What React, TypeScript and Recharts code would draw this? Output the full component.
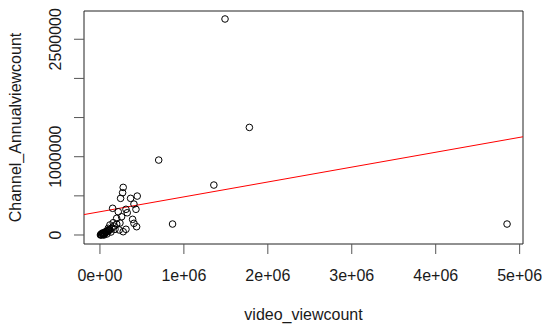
import React from "react";
import {
  ComposedChart,
  Scatter,
  XAxis,
  YAxis,
  ReferenceLine,
  ReferenceArea,
} from "recharts";

// video_viewcount values
const videoViewcount: number[] = [
  277000, 270000, 246000, 365000, 444000, 405000, 151000, 218000, 310000, 325000,
  429000, 389000, 258000, 199000, 405000, 437000, 310000, 277000, 119000, 158000,
  99000, 179000, 230000, 20000, 36000, 48000, 60000, 77000, 95000, 119000,
  143000, 30000, 83000, 6000, 131000, 167000, 200000, 238000,
  10000, 15000, 25000, 40000, 50000, 65000, 70000, 85000, 100000, 110000, 45000, 55000,
  700000, 1780000, 1357000, 865000, 1490000, 4850000,
];

// Channel_Annualviewcount values
const channelAnnualViewcount: number[] = [
  608000, 540000, 468000, 468000, 497000, 395000, 341000, 297000, 328000, 284000,
  328000, 200000, 233000, 213000, 149000, 106000, 73000, 42000, 128000, 157000,
  85000, 73000, 64000, 0, 13000, 0, 26000, 38000, 51000, 64000,
  89000, 25000, 13000, 0, 38000, 115000, 140000, 153000,
  5000, 10000, 20000, 20000, 30000, 35000, 45000, 40000, 60000, 70000, 8000, 15000,
  957000, 1374000, 638000, 140000, 2759000, 140000,
];

const xTicks: number[] = [0, 1000000, 2000000, 3000000, 4000000, 5000000];
const xTickLabels: string[] = ["0e+00", "1e+06", "2e+06", "3e+06", "4e+06", "5e+06"];
const yTicks: number[] = [0, 500000, 1000000, 1500000, 2000000, 2500000];
const yTickLabels: string[] = ["0", "", "1000000", "", "", "2500000"];

const xDomain: [number, number] = [-190000, 5040000];
const yDomain: [number, number] = [-115000, 2861000];

// fitted line (abline)
const fitIntercept = 297000;
const fitSlope = 0.19;

const data = videoViewcount.map((x, i) => ({ x, y: channelAnnualViewcount[i] }));

const FONT = "'Liberation Sans', Arial, sans-serif";
const TEXT = "#1a1a1a";

const XTick = (props: any) => {
  const { x, payload } = props;
  const idx = xTicks.indexOf(payload.value);
  return (
    <text x={x} y={281} textAnchor="middle" fontSize={16} fontFamily={FONT} fill={TEXT}>
      {xTickLabels[idx]}
    </text>
  );
};

const YTick = (props: any) => {
  const { y, payload } = props;
  const idx = yTicks.indexOf(payload.value);
  const label = yTickLabels[idx];
  if (!label) return <g />;
  const bx = 61;
  return (
    <text
      x={bx}
      y={y}
      transform={`rotate(-90, ${bx}, ${y})`}
      textAnchor="middle"
      fontSize={16}
      fontFamily={FONT}
      fill={TEXT}
    >
      {label}
    </text>
  );
};

const Circle = (props: any) => {
  const { cx, cy } = props;
  return <circle cx={cx} cy={cy} r={3.3} fill="none" stroke="#000" strokeWidth={1} />;
};

export default function App() {
  return (
    <div style={{ position: "absolute", left: 0, top: 0, background: "#fff" }}>
      <ComposedChart
        width={542}
        height={326}
        data={data}
        margin={{ top: 11, right: 19, bottom: 0, left: 0 }}
      >
        <XAxis
          type="number"
          dataKey="x"
          domain={xDomain}
          ticks={xTicks}
          interval={0}
          allowDataOverflow
          axisLine={false}
          tickSize={10}
          tickLine={{ stroke: "#555", strokeWidth: 1 }}
          tick={<XTick />}
          height={82}
          label={(p: any) => {
            const vb = p.viewBox || { x: 84, width: 439 };
            return (
              <text
                x={vb.x + vb.width / 2}
                y={320}
                textAnchor="middle"
                fontSize={16}
                fontFamily={FONT}
                fill={TEXT}
              >
                video_viewcount
              </text>
            );
          }}
        />
        <YAxis
          type="number"
          dataKey="y"
          domain={yDomain}
          ticks={yTicks}
          interval={0}
          allowDataOverflow
          axisLine={false}
          tickSize={10}
          tickLine={{ stroke: "#555", strokeWidth: 1 }}
          tick={<YTick />}
          width={84}
          label={(p: any) => {
            const vb = p.viewBox || { y: 11, height: 233 };
            const cy = vb.y + vb.height / 2;
            return (
              <text
                x={21}
                y={cy}
                transform={`rotate(-90, 21, ${cy})`}
                textAnchor="middle"
                fontSize={16}
                fontFamily={FONT}
                fill={TEXT}
              >
                Channel_Annualviewcount
              </text>
            );
          }}
        />
        <ReferenceArea
          x1={xDomain[0]}
          x2={xDomain[1]}
          y1={yDomain[0]}
          y2={yDomain[1]}
          fill="none"
          stroke="#222"
          strokeWidth={1}
          fillOpacity={0}
        />
        <Scatter
          dataKey="y"
          data={data}
          shape={<Circle />}
          isAnimationActive={false}
        />
        <ReferenceLine
          segment={[
            { x: xDomain[0], y: fitIntercept + fitSlope * xDomain[0] },
            { x: xDomain[1], y: fitIntercept + fitSlope * xDomain[1] },
          ]}
          stroke="#ff0000"
          strokeWidth={1}
          ifOverflow="visible"
        />
      </ComposedChart>
    </div>
  );
}
